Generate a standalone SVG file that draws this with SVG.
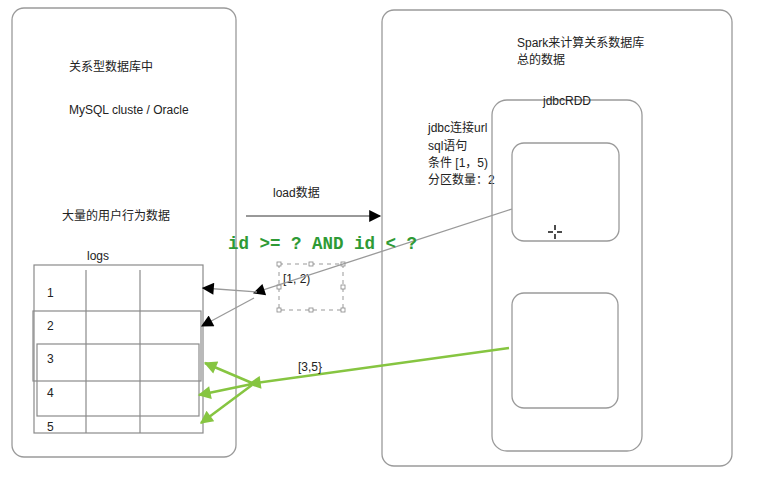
<svg xmlns="http://www.w3.org/2000/svg" width="757" height="495" viewBox="0 0 757 495">
<style>
text{font-family:"Liberation Sans","Noto Sans CJK SC",sans-serif;font-size:12px;fill:#222}
.panel{fill:none;stroke:#9a9a9a;stroke-width:1.3}
.tbl{fill:none;stroke:#8a8a8a;stroke-width:1.2}
.gl{stroke:#9a9a9a;stroke-width:1.3;fill:none}
.bl{stroke:#333;stroke-width:1;fill:none}
.gr{stroke:#86c541;stroke-width:2.5;fill:none}
.code{font-family:"Liberation Mono",monospace;font-weight:bold;font-size:17.5px;fill:#2e9a35}
.h{fill:#fff;stroke:#888;stroke-width:0.8}
</style>
<defs>
<marker id="ab" viewBox="0 0 10 10" refX="9" refY="5" markerWidth="14" markerHeight="12" markerUnits="userSpaceOnUse" orient="auto"><path d="M0,0 L10,5 L0,10 Z" fill="#000"/></marker>
<marker id="ag" viewBox="0 0 10 10" refX="9" refY="5" markerWidth="15" markerHeight="13" markerUnits="userSpaceOnUse" orient="auto"><path d="M0,0 L10,5 L0,10 Z" fill="#86c541"/></marker>
</defs>
<rect width="757" height="495" fill="#fff"/>
<g id="left-panel">
<rect class="panel" x="12" y="8" width="224" height="449" rx="12"/>
<text x="69" y="71">关系型数据库中</text>
<text x="69" y="114">MySQL cluste / Oracle</text>
<text x="62" y="220">大量的用户行为数据</text>
</g>
<g id="logs">
<text x="87" y="260">logs</text>
<rect class="tbl" x="34" y="265" width="169" height="168"/>
<line class="tbl" x1="86" y1="270" x2="86" y2="433"/>
<line class="tbl" x1="140" y1="270" x2="140" y2="433"/>
<rect class="tbl" x="33" y="311" width="168" height="70" stroke="#777"/>
<rect class="tbl" x="37" y="344" width="162" height="72" stroke="#777"/>
<text x="47" y="297">1</text>
<text x="47" y="330">2</text>
<text x="47" y="363">3</text>
<text x="47" y="397">4</text>
<text x="47" y="431">5</text>
</g>
<g id="right-panel">
<rect class="panel" x="382" y="10" width="350" height="456" rx="12"/>
<text x="517" y="47">Spark来计算关系数据库</text>
<text x="517" y="64">总的数据</text>
<text x="428" y="132">jdbc连接url</text>
<text x="428" y="150">sql语句</text>
<text x="428" y="167">条件 [1，5)</text>
<text x="428" y="184">分区数量：2</text>
</g>
<g id="jdbcRDD">
<rect class="panel" x="492" y="100" width="150" height="351" rx="15"/>
<text x="567" y="105" text-anchor="middle">jdbcRDD</text>
</g>
<g id="partition1">
<rect class="panel" x="512" y="143" width="107" height="98" rx="12"/>
</g>
<g id="partition2">
<rect class="panel" x="512" y="293" width="106" height="115" rx="12"/>
</g>
<g id="selection">
<rect x="279" y="264" width="64" height="46" fill="none" stroke="#999" stroke-width="1" stroke-dasharray="4,4"/>
<rect class="h" x="277" y="262" width="4" height="4"/>
<rect class="h" x="309" y="262" width="4" height="4"/>
<rect class="h" x="341" y="262" width="4" height="4"/>
<rect class="h" x="277" y="285" width="4" height="4"/>
<rect class="h" x="341" y="285" width="4" height="4"/>
<rect class="h" x="277" y="308" width="4" height="4"/>
<rect class="h" x="309" y="308" width="4" height="4"/>
<rect class="h" x="341" y="308" width="4" height="4"/>
<text x="283" y="283">[1, 2)</text>
</g>
<g id="connectors">
<line class="bl" x1="246" y1="216" x2="380" y2="216" marker-end="url(#ab)"/>
<line class="gl" x1="512" y1="209" x2="254" y2="293" marker-end="url(#ab)"/>
<line class="gl" x1="257" y1="292" x2="203" y2="288" marker-end="url(#ab)"/>
<line class="gl" x1="254" y1="298" x2="202" y2="326" marker-end="url(#ab)"/>
<line class="gr" x1="509" y1="348" x2="249" y2="384" marker-end="url(#ag)"/>
<line class="gr" x1="252" y1="383" x2="205" y2="363" marker-end="url(#ag)"/>
<line class="gr" x1="252" y1="384" x2="199" y2="395" marker-end="url(#ag)"/>
<line class="gr" x1="252" y1="385" x2="201" y2="423" marker-end="url(#ag)"/>
</g>
<g id="labels">
<text x="273" y="197">load数据</text>
<text class="code" x="228" y="249">id &gt;= ? AND id &lt; ?</text>
<text x="298" y="371">[3,5}</text>
</g>
<g id="cursor" stroke="#111" stroke-width="1.5">
<line x1="548" y1="232" x2="553" y2="232"/>
<line x1="557" y1="232" x2="562" y2="232"/>
<line x1="555" y1="225" x2="555" y2="230"/>
<line x1="555" y1="234" x2="555" y2="239"/>
</g>
</svg>
